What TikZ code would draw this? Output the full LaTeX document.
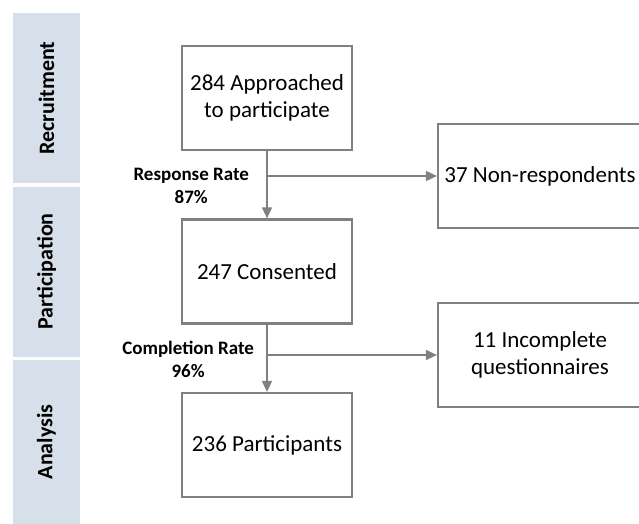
\documentclass[tikz,border=0pt]{standalone}
\usepackage{fontspec}
\setmainfont{Carlito}
\usetikzlibrary{arrows.meta,positioning}
\colorlet{box edge}{black!50}
\definecolor{stage fill}{HTML}{D6DFEA}
\tikzset{
  stagebar/.style={fill=stage fill, rotate=90, minimum height=67pt, inner sep=0pt,
    font=\fontsize{22}{26}\selectfont\bfseries},
  countbox/.style={draw=box edge, line width=2.2pt, minimum width=170pt, minimum height=104pt,
    align=center, font=\fontsize{23}{27}\selectfont},
  exitbox/.style={countbox, minimum width=204pt},
  ratetext/.style={align=center, font=\fontsize{19}{23}\selectfont\bfseries},
  flow/.style={draw=box edge, line width=1.6pt, -{Triangle[length=11pt,width=10pt]}}
  }

\begin{document}
\begin{tikzpicture}[x=1pt, y=-1pt]

  \useasboundingbox (0,0) rectangle (639,524);
  \clip (0,0) rectangle (639,524);

  % stage bars on the left
  \node[stagebar, minimum width=170pt] (recruit) at (46.5,98) {Recruitment};
  \node[stagebar, minimum width=170pt] (particip) at (46.5,271.5) {Participation};
  \node[stagebar, minimum width=164pt] (analysis) at (46.5,442) {Analysis};

  % boxes
  \node[countbox] (approached) at (267,98) {284 Approached\\to participate};
  \node[countbox] (consented) at (267,271.5) {247 Consented};
  \node[countbox] (participants) at (267,445) {236 Participants};
  \node[exitbox] (nonresp) at (540,176) {37 Non-respondents};
  \node[exitbox] (incomplete) at (540,355) {11 Incomplete\\questionnaires};

  % connectors
  \coordinate (respsplit) at (approached.south |- nonresp.west);
  \coordinate (compsplit) at (consented.south |- incomplete.west);
  \draw[flow] (approached) -- (consented);
  \draw[flow] (consented) -- (participants);
  \draw[flow] (respsplit) -- (nonresp);
  \draw[flow] (compsplit) -- (incomplete);

  \node[ratetext, anchor=east] (resprate) at (252.5,186) {Response Rate\\87\%};
  \node[ratetext, anchor=east] (comprate) at (257.5,359) {Completion Rate\\96\%};

\end{tikzpicture}
\end{document}
